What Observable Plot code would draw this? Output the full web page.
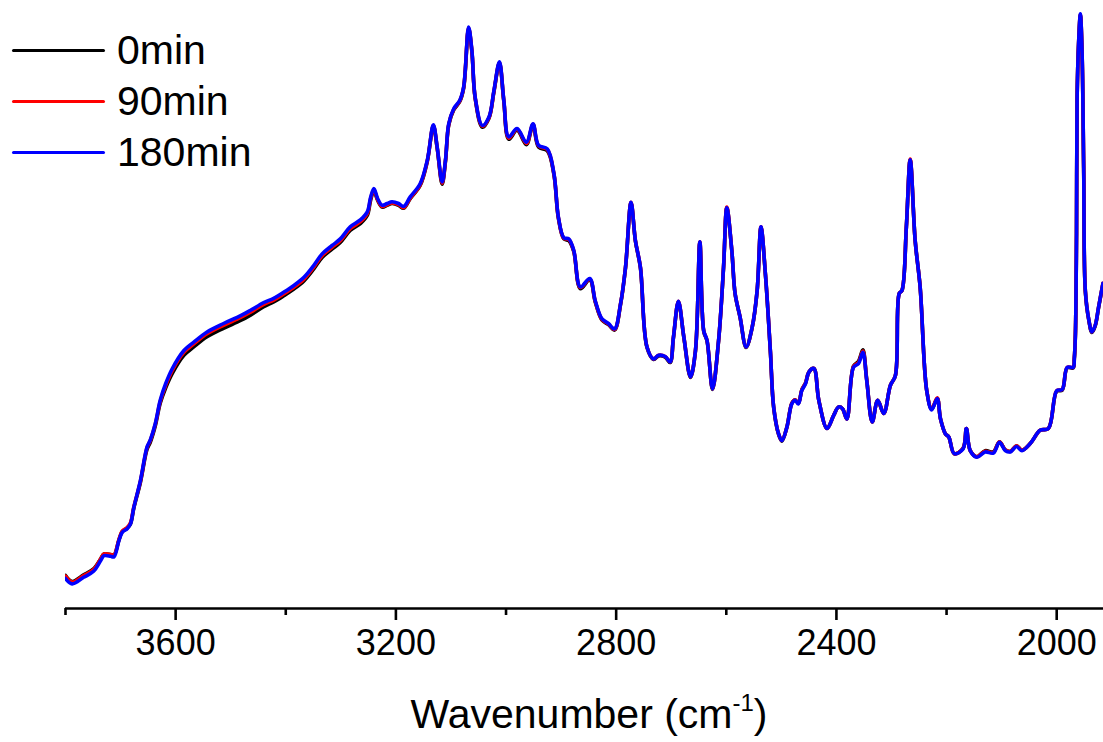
<!DOCTYPE html>
<html>
<head>
<meta charset="utf-8">
<script src="https://cdn.jsdelivr.net/npm/d3@7"></script>
<script src="https://cdn.jsdelivr.net/npm/@observablehq/plot@0.6"></script>
<style>
  body { margin: 0; background: #fff; font-family: "Liberation Sans", Arial, sans-serif; }
  #wrap { position: relative; width: 1103px; height: 742px; overflow: hidden; }
  #legend { position: absolute; left: 12px; top: 25px; }
  .row { display: flex; align-items: center; height: 51px; }
  .swatch { width: 93px; height: 3px; border-radius: 1.5px; }
  .lab { margin-left: 12px; font-size: 41px; line-height: 51px; color: #000; }
  #xtitle { position: absolute; left: 589px; top: 694px; transform: translateX(-50%); white-space: nowrap; font-size: 41px; line-height: 41px; color: #000; }
  #xtitle sup { font-size: 24px; position: relative; top: -17px; vertical-align: baseline; }
</style>
</head>
<body>
<div id="wrap">
  <div id="chart"></div>
  <div id="legend"></div>
  <div id="xtitle">Wavenumber (cm<sup>-1</sup>)</div>
</div>
<script>
// ---- data (absorbance, arbitrary units) ----
const wavenumbers = [3800,3788,3767,3749,3736,3730,3718,3712,3703,3697,3688,3682,3676,3664,3652,3646,3637,3628,3618,3606,3585,3567,3543,3513,3482,3464,3440,3422,3404,3386,3367,3349,3334,3316,3301,3283,3264,3252,3246,3240,3233,3225,3216,3207,3195,3186,3174,3156,3143,3132,3125,3116,3110,3104,3095,3084,3077,3068,3062,3056,3043,3031,3022,3012,3004,2995,2980,2963,2951,2941,2925,2913,2905,2895,2886,2877,2865,2848,2838,2826,2814,2803,2792,2783,2773,2765,2756,2744,2732,2723,2711,2702,2696,2687,2677,2665,2656,2648,2641,2635,2625,2614,2605,2599,2590,2584,2575,2564,2553,2544,2537,2529,2520,2514,2505,2499,2490,2481,2475,2469,2463,2456,2450,2441,2432,2417,2405,2396,2389,2381,2369,2360,2352,2345,2335,2325,2314,2302,2293,2286,2281,2273,2266,2257,2248,2236,2227,2217,2211,2202,2196,2186,2170,2164,2157,2145,2130,2115,2104,2093,2084,2073,2063,2048,2030,2015,2000,1990,1981,1970,1968,1966,1964,1963,1960,1957,1954,1951,1948,1942,1936,1930,1924,1916];

const abs0min = [0.055,0.045,0.056,0.066,0.083,0.091,0.090,0.089,0.114,0.128,0.134,0.141,0.167,0.210,0.265,0.277,0.304,0.342,0.368,0.392,0.422,0.436,0.453,0.467,0.480,0.489,0.503,0.511,0.521,0.532,0.546,0.566,0.585,0.599,0.610,0.630,0.642,0.655,0.680,0.696,0.680,0.669,0.672,0.675,0.672,0.667,0.683,0.705,0.745,0.804,0.767,0.707,0.745,0.806,0.831,0.845,0.867,0.967,0.928,0.850,0.802,0.817,0.861,0.909,0.845,0.782,0.797,0.773,0.806,0.769,0.763,0.723,0.651,0.616,0.613,0.595,0.533,0.548,0.511,0.481,0.473,0.464,0.507,0.568,0.676,0.612,0.568,0.435,0.415,0.421,0.419,0.410,0.451,0.511,0.451,0.385,0.429,0.610,0.462,0.446,0.365,0.446,0.568,0.668,0.596,0.524,0.485,0.435,0.468,0.529,0.635,0.557,0.429,0.335,0.290,0.279,0.302,0.342,0.348,0.342,0.364,0.376,0.394,0.400,0.347,0.300,0.322,0.336,0.333,0.316,0.404,0.412,0.431,0.382,0.311,0.347,0.325,0.372,0.388,0.525,0.530,0.636,0.748,0.613,0.536,0.363,0.332,0.350,0.316,0.291,0.286,0.258,0.267,0.300,0.263,0.253,0.263,0.261,0.278,0.264,0.262,0.271,0.264,0.275,0.297,0.300,0.362,0.364,0.401,0.401,0.416,0.457,0.624,0.846,0.946,0.989,0.928,0.734,0.529,0.482,0.460,0.471,0.501,0.541];

const abs90min = [0.054,0.044,0.055,0.065,0.083,0.091,0.090,0.089,0.115,0.129,0.135,0.143,0.169,0.212,0.268,0.280,0.307,0.345,0.372,0.397,0.427,0.441,0.458,0.472,0.485,0.494,0.507,0.514,0.524,0.535,0.549,0.569,0.588,0.602,0.613,0.633,0.645,0.658,0.683,0.698,0.681,0.670,0.673,0.676,0.673,0.668,0.684,0.706,0.746,0.805,0.768,0.709,0.746,0.807,0.832,0.846,0.868,0.968,0.929,0.851,0.804,0.818,0.862,0.910,0.846,0.784,0.799,0.775,0.807,0.771,0.765,0.724,0.652,0.617,0.615,0.596,0.535,0.549,0.512,0.482,0.474,0.465,0.508,0.569,0.677,0.613,0.569,0.436,0.416,0.422,0.420,0.411,0.452,0.512,0.452,0.386,0.430,0.611,0.463,0.447,0.366,0.447,0.569,0.669,0.597,0.525,0.486,0.436,0.469,0.530,0.636,0.558,0.430,0.336,0.291,0.280,0.302,0.342,0.348,0.342,0.364,0.376,0.394,0.400,0.347,0.300,0.322,0.336,0.333,0.316,0.403,0.410,0.429,0.381,0.311,0.347,0.325,0.372,0.388,0.525,0.530,0.636,0.749,0.613,0.536,0.363,0.333,0.351,0.316,0.291,0.286,0.258,0.267,0.300,0.263,0.253,0.262,0.260,0.278,0.264,0.262,0.271,0.264,0.275,0.297,0.300,0.363,0.365,0.402,0.402,0.417,0.458,0.625,0.847,0.947,0.990,0.929,0.735,0.530,0.483,0.461,0.472,0.502,0.542];

const abs180min = [0.050,0.041,0.052,0.062,0.080,0.088,0.087,0.086,0.113,0.127,0.133,0.141,0.168,0.213,0.269,0.281,0.308,0.347,0.375,0.400,0.430,0.444,0.461,0.475,0.488,0.497,0.510,0.517,0.527,0.538,0.552,0.572,0.591,0.605,0.616,0.636,0.648,0.661,0.685,0.700,0.683,0.672,0.675,0.678,0.675,0.670,0.686,0.708,0.747,0.806,0.769,0.711,0.747,0.808,0.833,0.847,0.869,0.969,0.930,0.852,0.805,0.819,0.863,0.911,0.847,0.786,0.800,0.777,0.808,0.772,0.766,0.725,0.653,0.618,0.616,0.597,0.536,0.550,0.513,0.483,0.475,0.466,0.508,0.569,0.677,0.613,0.569,0.436,0.416,0.422,0.420,0.411,0.452,0.512,0.452,0.386,0.430,0.611,0.463,0.447,0.366,0.447,0.569,0.668,0.597,0.525,0.486,0.436,0.469,0.530,0.636,0.558,0.430,0.336,0.291,0.280,0.302,0.341,0.347,0.341,0.363,0.375,0.394,0.400,0.347,0.300,0.322,0.336,0.333,0.316,0.402,0.408,0.427,0.380,0.311,0.347,0.325,0.372,0.388,0.525,0.530,0.636,0.748,0.613,0.536,0.363,0.331,0.350,0.316,0.291,0.286,0.258,0.266,0.300,0.263,0.252,0.261,0.259,0.277,0.263,0.261,0.270,0.263,0.275,0.297,0.300,0.363,0.365,0.402,0.402,0.417,0.458,0.625,0.847,0.947,0.991,0.930,0.736,0.530,0.483,0.461,0.472,0.502,0.542];

const seriesNames = ["0min", "90min", "180min"];
const seriesColors = ["#000000", "#ff0000", "#0000ff"];
const seriesValues = [abs0min, abs90min, abs180min];

const majorTicks = [3600, 3200, 2800, 2400, 2000];
const minorTicks = [3800, 3400, 3000, 2600, 2200];

// ---- build table ----
const rows = seriesNames.flatMap((name, s) =>
  wavenumbers.map((w, i) => ({ series: name, wavenumber: w, absorbance: seriesValues[s][i] }))
);

const chart = Plot.plot({
  width: 1103,
  height: 742,
  marginLeft: 65,
  marginRight: 0,
  marginTop: 8,
  marginBottom: 134,
  style: { fontFamily: "'Liberation Sans', Arial, sans-serif", background: "#fff", color: "#000" },
  x: { domain: [3800, 1915], axis: null },
  y: { domain: [0, 1], axis: null },
  color: { domain: seriesNames, range: seriesColors },
  marks: [
    ...seriesNames.map(name => Plot.line(rows.filter(d => d.series === name), {
      x: "wavenumber", y: "absorbance", stroke: "series",
      strokeWidth: 3.6, curve: "catmull-rom", clip: true
    })),
    Plot.ruleY([0], { stroke: "#000", strokeWidth: 2.6 }),
    Plot.axisX(majorTicks, {
      anchor: "bottom", tickSize: 12, tickPadding: 9, strokeWidth: 2.6,
      fontSize: 36, tickFormat: d => String(d), label: null
    }),
    Plot.axisX(minorTicks, {
      anchor: "bottom", tickSize: 7, strokeWidth: 2.6,
      tickFormat: () => "", label: null
    })
  ]
});
document.getElementById("chart").appendChild(chart);

// legend
const legend = document.getElementById("legend");
seriesNames.forEach((name, i) => {
  const row = document.createElement("div");
  row.className = "row";
  const sw = document.createElement("div");
  sw.className = "swatch";
  sw.style.background = seriesColors[i];
  const lab = document.createElement("span");
  lab.className = "lab";
  lab.textContent = name;
  row.appendChild(sw);
  row.appendChild(lab);
  legend.appendChild(row);
});
</script>
</body>
</html>
